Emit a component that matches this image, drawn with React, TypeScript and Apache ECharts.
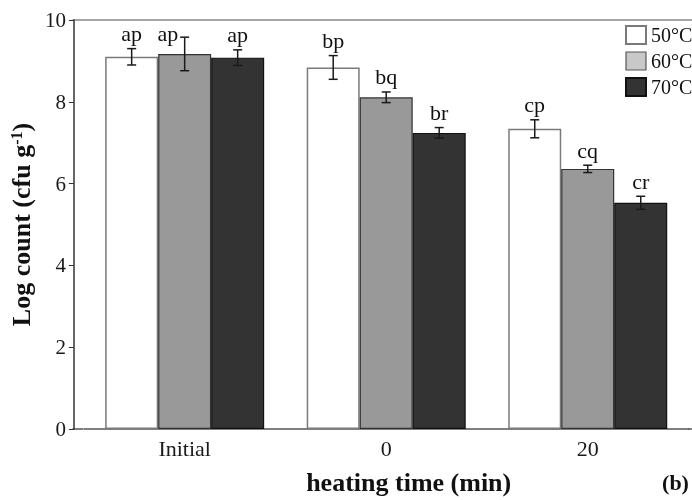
import React, { useEffect, useRef } from "react";
import * as echarts from "echarts";

const categories = ["Initial", "0", "20"];
const temps = ["50°C", "60°C", "70°C"];
const means50 = [9.1, 8.84, 7.34];
const means60 = [9.17, 8.11, 6.36];
const means70 = [9.08, 7.24, 5.53];
const err50 = [0.2, 0.29, 0.22];
const err60 = [0.41, 0.13, 0.09];
const err70 = [0.19, 0.13, 0.16];
const letters50 = ["ap", "bp", "cp"];
const letters60 = ["ap", "bq", "cq"];
const letters70 = ["ap", "br", "cr"];
const yTicks = { min: 0, max: 10, interval: 2 };

const FONT = "'Liberation Serif', 'Times New Roman', serif";
const BAR_W = 53;
const CAP_HALF = 4.5;
const LABEL_SIZE = 22;

export default function App() {
  const ref = useRef<HTMLDivElement>(null);
  useEffect(() => {
    if (!ref.current) return;
    const chart = echarts.init(ref.current, undefined, { renderer: "svg" });
    const means = [means50, means60, means70];
    const errs = [err50, err60, err70];
    const letters = [letters50, letters60, letters70];
    const errData: number[][] = [];
    for (let s = 0; s < 3; s++) {
      for (let i = 0; i < categories.length; i++) {
        errData.push([i, means[s][i], errs[s][i], s]);
      }
    }
    const styles = [
      { color: "#ffffff", borderColor: "#7a7a7a", borderWidth: 1.5 },
      { color: "#999999", borderColor: "#333333", borderWidth: 1.2 },
      { color: "#333333", borderColor: "#111111", borderWidth: 1.2 },
    ];
    chart.setOption({
      animation: false,
      grid: { left: 82.5, top: 20, width: 606, height: 409 },
      legend: {
        data: [
          { name: temps[0] },
          { name: temps[1], itemStyle: { color: "#c8c8c8", borderColor: "#555555", borderWidth: 1.2 } },
          { name: temps[2] },
        ],
        orient: "vertical",
        left: 625,
        top: 25,
        padding: 0,
        itemWidth: 20,
        itemHeight: 18,
        itemGap: 6,
        icon: "rect",
        selectedMode: false,
        textStyle: { fontSize: 20, fontFamily: FONT, color: "#111" },
      },
      xAxis: {
        type: "category",
        data: categories,
        name: "heating time (min)",
        nameLocation: "middle",
        nameGap: 40,
        nameTextStyle: {
          fontSize: 26,
          fontWeight: "bold",
          fontFamily: FONT,
          color: "#111",
          padding: [0, 0, 0, 45],
        },
        axisLine: { lineStyle: { color: "#555", width: 1.5 } },
        axisTick: { alignWithLabel: true, length: 5, lineStyle: { color: "#555" } },
        axisLabel: { fontSize: 22, fontFamily: FONT, color: "#1a1a1a", margin: 8 },
      },
      yAxis: {
        type: "value",
        min: yTicks.min,
        max: yTicks.max,
        interval: yTicks.interval,
        offset: 10,
        name: "{a|Log count (cfu g}{s|-1}{a|)}",
        nameLocation: "middle",
        nameRotate: 90,
        nameGap: 38,
        nameTextStyle: {
          rich: {
            a: { fontSize: 26, fontWeight: "bold", fontFamily: FONT, color: "#111" },
            s: { fontSize: 16, fontWeight: "bold", fontFamily: FONT, color: "#111", verticalAlign: "top", padding: [0, 0, 10, 0] },
          },
        },
        splitLine: { show: false },
        axisLine: { show: true, lineStyle: { color: "#333", width: 1.5 } },
        axisTick: { show: true, length: 5, lineStyle: { color: "#333" } },
        axisLabel: { fontSize: 21, fontFamily: FONT, color: "#1a1a1a", margin: 8 },
      },
      graphic: [
        { type: "line", shape: { x1: 72.5, y1: 20, x2: 692, y2: 20 }, style: { stroke: "#888", lineWidth: 1.5 } },
        { type: "line", shape: { x1: 72.5, y1: 429, x2: 83, y2: 429 }, style: { stroke: "#555", lineWidth: 1.5 } },
        { type: "line", shape: { x1: 688, y1: 429, x2: 692, y2: 429 }, style: { stroke: "#555", lineWidth: 1.5 } },
        {
          type: "text",
          x: 675.5,
          y: 482,
          style: { text: "(b)", fontSize: 22, fontWeight: "bold", fontFamily: FONT, fill: "#111", textAlign: "center", textVerticalAlign: "middle" },
        },
      ],
      series: [
        ...[0, 1, 2].map((s) => ({
          type: "bar",
          name: temps[s],
          data: means[s],
          barWidth: BAR_W,
          barGap: "0%",
          itemStyle: styles[s],
          z: 2,
        })),
        {
          type: "custom",
          name: "err",
          data: errData,
          z: 5,
          clip: false,
          renderItem: (params: any, api: any) => {
            const i = api.value(0);
            const mean = api.value(1);
            const err = api.value(2);
            const s = api.value(3);
            const c = api.coord([i, mean]);
            const x = c[0] + (s - 1) * BAR_W;
            const yT = api.coord([i, mean + err])[1];
            const yB = api.coord([i, mean - err])[1];
            const gridTop = params.coordSys.y;
            const letter = letters[s][i];
            let textBottom = yT - 4;
            let tx = x;
            let align = "center";
            const minBottom = gridTop + LABEL_SIZE + 2;
            if (textBottom < minBottom) {
              textBottom = minBottom;
              tx = x - CAP_HALF - 2;
              align = "right";
            }
            const ls = { stroke: "#1a1a1a", lineWidth: 1.5 };
            return {
              type: "group",
              children: [
                { type: "line", shape: { x1: x, y1: yT, x2: x, y2: yB }, style: ls },
                { type: "line", shape: { x1: x - CAP_HALF, y1: yT, x2: x + CAP_HALF, y2: yT }, style: ls },
                { type: "line", shape: { x1: x - CAP_HALF, y1: yB, x2: x + CAP_HALF, y2: yB }, style: ls },
                {
                  type: "text",
                  x: tx,
                  y: textBottom,
                  style: {
                    text: letter,
                    fontSize: LABEL_SIZE,
                    fontFamily: FONT,
                    fill: "#111",
                    textAlign: align,
                    textVerticalAlign: "bottom",
                  },
                },
              ],
            };
          },
        },
      ],
    });
    return () => chart.dispose();
  }, []);
  return <div ref={ref} style={{ position: "fixed", left: 0, top: 0, width: 692, height: 500 }} />;
}
